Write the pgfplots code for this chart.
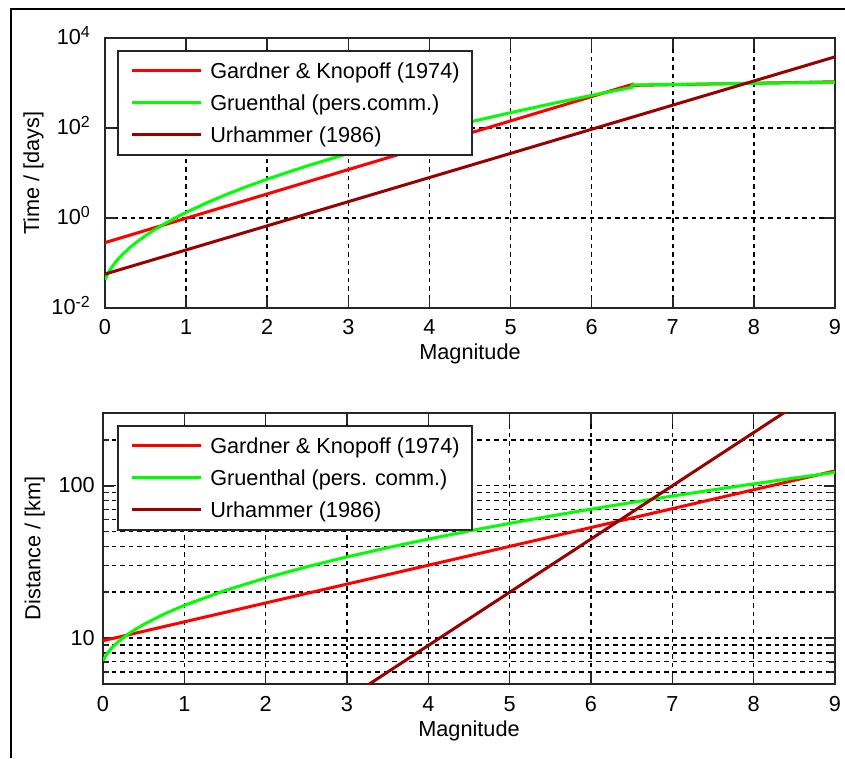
\documentclass[border=0pt]{standalone}
\usepackage{fontspec}
\setmainfont{Liberation Sans}
\usepackage{pgfplots}
\pgfplotsset{compat=1.18}

\definecolor{mred}{RGB}{255,0,0}
\definecolor{mgreen}{RGB}{0,255,0}
\definecolor{mbrown}{RGB}{153,0,0}
\definecolor{axgray}{RGB}{38,38,38}
\newcommand\ff{\fontsize{21.7pt}{26pt}\selectfont}
\newcommand\ex[1]{\raisebox{7.5pt}{\fontsize{16pt}{16pt}\selectfont #1}}

\pgfplotsset{
  mstyle/.style={
    scale only axis, xmin=0, xmax=9,
    xtick={0,1,2,3,4,5,6,7,8,9},
    xticklabels={0,1,2,3,4,5,6,7,8,9},
    axis line style={axgray, line width=1.6pt},
    major tick style={axgray, line width=1.6pt},
    minor tick style={axgray, line width=1.6pt},
    major tick length=11pt, minor tick length=6pt,
    tick align=inside,
    major grid style={black, line width=1.5pt, dash pattern=on 4.5pt off 4pt},
    minor grid style={black, line width=1.5pt, dash pattern=on 4.5pt off 4pt},
    xmajorgrids, ymajorgrids,
    tick label style={font=\ff, text=black},
    xticklabel style={anchor=base, yshift=-27pt, inner sep=0pt},
    x label style={at={(axis description cs:0.5,0)}, anchor=base, yshift=-52pt, inner sep=0pt, font=\ff},
    xlabel={Magnitude},
    legend cell align=left,
    legend style={font=\ff, draw=axgray, line width=1.6pt, fill=white,
      inner xsep=12.5pt, inner ysep=9.5pt, row sep=11pt, column sep=8pt,
      nodes={inner sep=0pt, text height=18pt, text depth=3pt}},
    legend image code/.code={\draw[##1] (0pt,0pt) -- (69pt,0pt);},
  },
  gk/.style={mred, line width=3pt, no markers},
  gr/.style={mgreen, line width=3pt, no markers},
  ur/.style={mbrown, line width=3pt, no markers},
}

\begin{document}
\begin{tikzpicture}[x=1pt,y=1pt]
\useasboundingbox (0,0) rectangle (845,758);
\draw[black, line width=2.5pt] (11,0) -- (11,749) -- (845,749);

% time window
\begin{axis}[mstyle, ymode=log, at={(105pt,450pt)}, anchor=south west,
  width=730pt, height=270pt, ymin=1e-2, ymax=1e4,
  ytick={1e-2,1,1e2,1e4},
  yticklabels={10\ex{-2},10\ex{0},10\ex{2},10\ex{4}},
  minor ytick={},
  yticklabel style={anchor=base east, xshift=-15pt, yshift=-6.8pt, inner sep=0pt},
  y label style={at={(axis description cs:-0.0904,0.5)}, anchor=base, inner sep=0pt, font=\ff},
  ylabel={Time / [days]},
  legend style={at={(0.01644,0.9556)}, anchor=north west},
]
\addplot[gk] coordinates {
  (0,0.2838)(0.5,0.5289)(1,0.9861)(1.5,1.838)(2,3.426)(2.5,6.388)(3,11.91)
  (3.5,22.20)(4,41.37)(4.5,77.11)(5,143.7)(5.5,267.9)(6,499.4)(6.5,930.8)
  (6.5,884.9)(7,918.3)(7.5,952.7)(8,988.3)(8.5,1025.4)(9,1063.9)
};
\addlegendentry{Gardner \& Knopoff (1974)}
\addplot[gr] coordinates {
  (0,0.04233)(0.05,0.0652)(0.1,0.0892)(0.15,0.1158)(0.2,0.1453)(0.3,0.2147)
  (0.4,0.3004)(0.5,0.4051)(0.6,0.5318)(0.75,0.7704)(0.9,1.0789)(1,1.3306)
  (1.25,2.158)(1.5,3.345)(1.75,5.011)(2,7.301)(2.5,14.55)(3,27.15)(3.5,48.21)
  (4,82.33)(4.5,136.1)(5,219.1)(5.5,344.5)(6,531.0)(6.5,804.1)
  (6.5,903.6)(7,928.9)(8,981.7)(9,1037.5)
};
\addlegendentry{Gruenthal (pers.comm.)}
\addplot[ur] coordinates {
  (0,0.0567)(1,0.1950)(2,0.6703)(3,2.305)(4,7.925)(5,27.25)(6,93.69)
  (7,322.2)(8,1107.8)(9,3809)
};
\addlegendentry{Urhammer (1986)}
\end{axis}

% distance window
\begin{axis}[mstyle, ymode=log, at={(103pt,74pt)}, anchor=south west,
  width=732pt, height=271pt, ymin=5, ymax=300,
  ytick={10,100}, yticklabels={10,100},
  minor ytick={6,7,8,9,20,30,40,50,60,70,80,90,200},
  yminorgrids,
  yticklabel style={anchor=base east, xshift=-8pt, yshift=-7pt, inner sep=0pt},
  y label style={at={(axis description cs:-0.0854,0.5)}, anchor=base, inner sep=0pt, font=\ff},
  ylabel={Distance / [km]},
  legend style={at={(0.0191,0.9557)}, anchor=north west},
]
\addplot[gk] coordinates {
  (0,9.616)(1,12.79)(2,17.01)(3,22.62)(4,30.08)(5,39.99)(6,53.18)
  (7,70.72)(8,94.05)(9,125.1)
};
\addlegendentry{Gardner \& Knopoff (1974)}
\addplot[gr] coordinates {
  (0,7.116)(0.05,7.898)(0.1,8.523)(0.15,9.079)(0.2,9.592)(0.3,10.55)
  (0.4,11.44)(0.5,12.30)(0.75,14.38)(1,16.41)(1.5,20.53)(2,24.81)(2.5,29.33)
  (3,34.13)(3.5,39.22)(4,44.66)(4.5,50.46)(5,56.63)(5.5,63.20)(6,70.20)
  (6.5,77.64)(7,85.54)(7.5,93.93)(8,102.8)(8.5,112.3)(9,122.3)
};
\addlegendentry{Gruenthal (pers. comm.)}
\addplot[ur] coordinates {
  (0,0.3592)(1,0.8025)(2,1.793)(3,4.007)(4,8.953)(5,20.00)(6,44.70)
  (7,99.89)(8,223.2)(9,498.7)
};
\addlegendentry{Urhammer (1986)}
\end{axis}
\end{tikzpicture}
\end{document}
